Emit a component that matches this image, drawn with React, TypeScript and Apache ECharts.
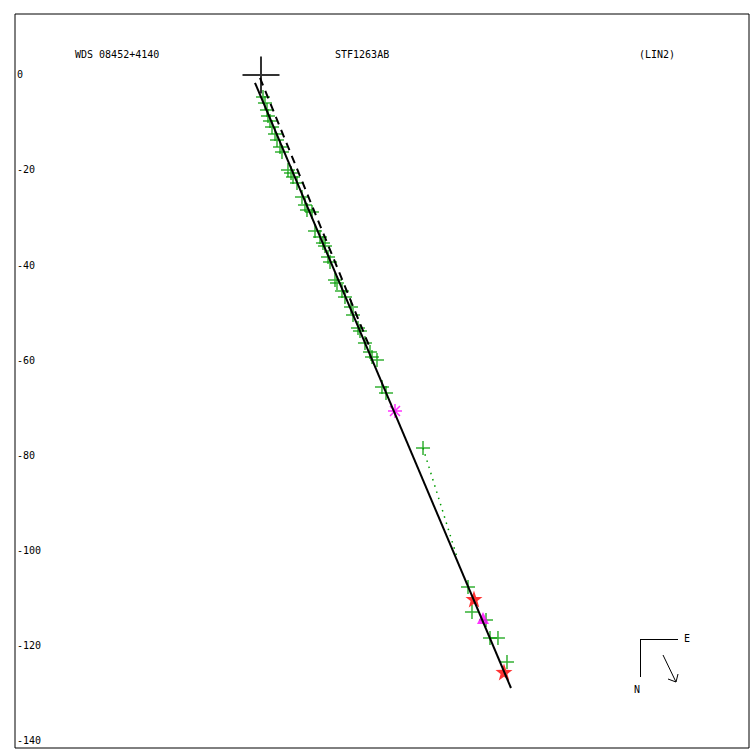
import React, { useEffect, useRef } from "react";
import * as echarts from "echarts";

// Tick labels of the vertical axis
const yTickValues = [0, -20, -40, -60, -80, -100, -120, -140];

// Header texts
const titleLeft = "WDS 08452+4140";
const titleMid = "STF1263AB";
const titleRight = "(LIN2)";

// Primary star (origin)
const primary = [[0, 0]];

// Visual observations (green pluses)
const greenObs = [
  [0.42, -4.63], [0.84, -5.89], [1.26, -7.37], [1.47, -8.63], [1.89, -9.68],
  [2.32, -10.95], [2.95, -12.42], [3.37, -13.68], [4.0, -15.16], [4.42, -16.21],
  [5.68, -20.0], [6.32, -20.63], [6.74, -21.47], [7.58, -22.74], [8.63, -25.68],
  [9.26, -27.37], [9.68, -28.42], [10.74, -28.84], [11.37, -32.84], [12.42, -34.11],
  [13.05, -35.37], [13.47, -36.0], [14.11, -38.32], [14.53, -39.37], [15.58, -43.16],
  [16.0, -43.79], [17.05, -45.47], [17.68, -46.74], [18.95, -48.84], [19.37, -50.53],
  [20.42, -53.26], [20.84, -53.89], [21.89, -56.42], [22.95, -58.32], [23.37, -59.37],
  [24.42, -60.0], [25.47, -65.68], [26.32, -66.95],
  [34.11, -78.53],
  [43.58, -107.79], [44.42, -113.05], [47.37, -114.74], [48.21, -118.53],
  [49.89, -118.53], [51.79, -123.58],
];

// Speckle measures (red stars)
const speckleObs = [[44.84, -110.32], [51.16, -125.68]];
// Other measures (magenta triangle)
const triangleObs = [[46.74, -114.32]];
// Other measures (magenta asterisk)
const asteriskObs = [[28.21, -70.74]];

// Linear fit (solid) and earlier solution (dashed)
const fitLine = [[-1.26, -1.68], [52.63, -129.05]];
const prevLine = [[-0.21, -0.63], [22.95, -57.47]];
// O-C line of the outlier
const ocLine = [[34.11, -78.53], [41.26, -101.47]];

const FONT = "DejaVu Sans Mono";
const GREEN = "#009c00";

const plusPath = "path://M5,0L5,10M0,5L10,5";
const asteriskPath = "path://M7,0L7,14M0,7L14,7M2,2L12,12M12,2L2,12";
const starPath =
  "path://M10,0L12.35,6.76L19.51,6.91L13.8,11.24L15.88,18.09L10,14L4.12,18.09L6.2,11.24L0.49,6.91L7.65,6.76Z";

export default function App() {
  const ref = useRef<HTMLDivElement>(null);

  useEffect(() => {
    if (!ref.current) return;
    const chart = echarts.init(ref.current, null, { renderer: "svg" });
    chart.setOption({
      animation: false,
      backgroundColor: "#ffffff",
      grid: {
        left: 15,
        top: 14,
        width: 734,
        height: 734,
        show: true,
        borderColor: "#000000",
        borderWidth: 1,
        backgroundColor: "transparent",
      },
      xAxis: {
        type: "value",
        min: -51.79,
        max: 102.74,
        axisLine: { show: false },
        axisTick: { show: false },
        axisLabel: { show: false },
        splitLine: { show: false },
      },
      yAxis: {
        type: "value",
        min: -141.68,
        max: 12.84,
        axisLine: { show: false },
        axisTick: { show: false },
        splitLine: { show: false },
        axisLabel: {
          inside: true,
          margin: 2,
          color: "#000000",
          fontFamily: FONT,
          fontSize: 10,
          customValues: yTickValues,
          formatter: (v: number) => String(Math.round(v)),
        },
      },
      graphic: [
        { type: "text", left: 75, top: 49, style: { text: titleLeft, font: `10px "${FONT}"`, fill: "#000" } },
        { type: "text", left: 335, top: 49, style: { text: titleMid, font: `10px "${FONT}"`, fill: "#000" } },
        { type: "text", left: 639, top: 49, style: { text: titleRight, font: `10px "${FONT}"`, fill: "#000" } },
        { type: "line", shape: { x1: 640, y1: 639.5, x2: 678, y2: 639.5 }, style: { stroke: "#000", lineWidth: 1 } },
        { type: "line", shape: { x1: 640.5, y1: 639, x2: 640.5, y2: 677 }, style: { stroke: "#000", lineWidth: 1 } },
        { type: "line", shape: { x1: 663, y1: 655, x2: 676, y2: 682 }, style: { stroke: "#000", lineWidth: 1 } },
        { type: "line", shape: { x1: 676, y1: 682, x2: 668, y2: 679 }, style: { stroke: "#000", lineWidth: 1 } },
        { type: "line", shape: { x1: 676, y1: 682, x2: 678, y2: 674 }, style: { stroke: "#000", lineWidth: 1 } },
        { type: "text", left: 684, top: 633, style: { text: "E", font: `10px "${FONT}"`, fill: "#000" } },
        { type: "text", left: 634, top: 684, style: { text: "N", font: `10px "${FONT}"`, fill: "#000" } },
      ],
      series: [
        {
          type: "scatter",
          data: greenObs,
          symbol: plusPath,
          symbolSize: 14,
          itemStyle: { color: "transparent", borderColor: GREEN, borderWidth: 1.5 },
          z: 2,
          silent: true,
        },
        {
          type: "line",
          data: ocLine,
          showSymbol: false,
          lineStyle: { color: GREEN, width: 1.5, type: [1.5, 5] },
          z: 2,
          silent: true,
        },
        {
          type: "scatter",
          data: speckleObs,
          symbol: starPath,
          symbolSize: 17,
          itemStyle: { color: "#ff0000" },
          z: 3,
          silent: true,
        },
        {
          type: "scatter",
          data: triangleObs,
          symbol: "triangle",
          symbolSize: 12,
          itemStyle: { color: "#ff00ff" },
          z: 3,
          silent: true,
        },
        {
          type: "scatter",
          data: asteriskObs,
          symbol: asteriskPath,
          symbolSize: 14,
          itemStyle: { color: "transparent", borderColor: "#ff00ff", borderWidth: 1.5 },
          z: 3,
          silent: true,
        },
        {
          type: "line",
          data: fitLine,
          showSymbol: false,
          lineStyle: { color: "#000000", width: 2 },
          z: 4,
          silent: true,
        },
        {
          type: "line",
          data: prevLine,
          showSymbol: false,
          lineStyle: { color: "#000000", width: 2, type: [8, 6] },
          z: 4,
          silent: true,
        },
        {
          type: "scatter",
          data: primary,
          symbol: plusPath,
          symbolSize: 37,
          itemStyle: { color: "transparent", borderColor: "#000000", borderWidth: 2 },
          z: 5,
          silent: true,
        },
      ],
    });
    return () => chart.dispose();
  }, []);

  return (
    <div
      ref={ref}
      style={{ position: "fixed", left: 0, top: 0, width: 750, height: 750, background: "#fff" }}
    />
  );
}
